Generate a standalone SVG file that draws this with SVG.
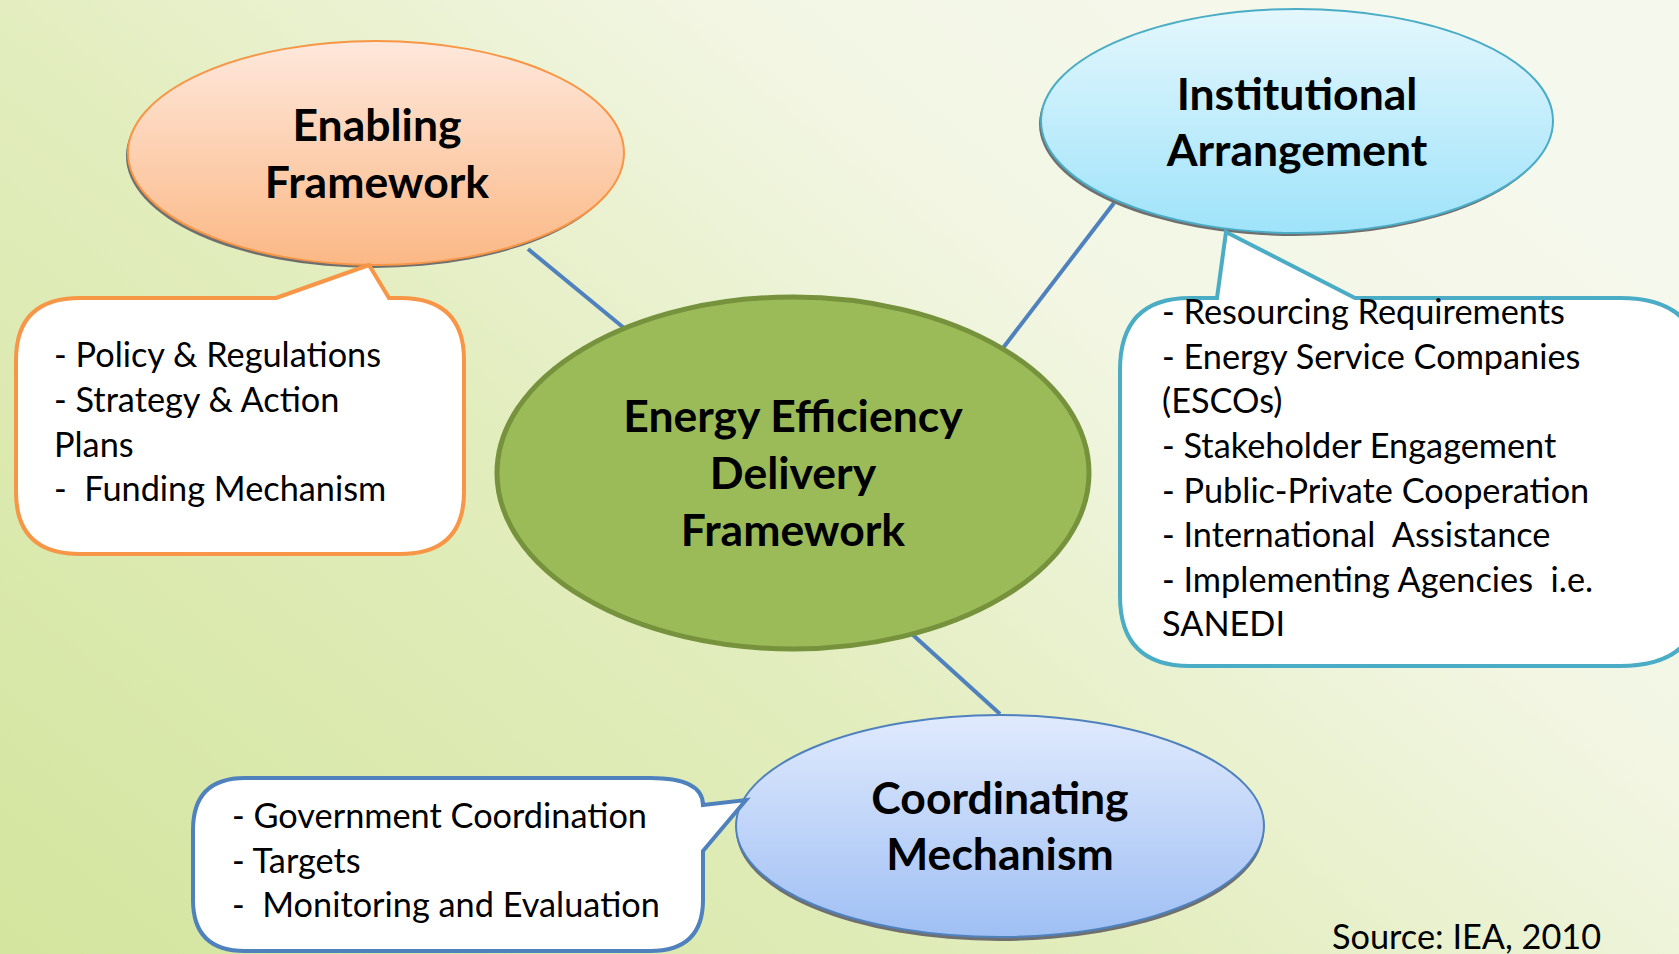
<svg xmlns="http://www.w3.org/2000/svg" width="1679" height="954" viewBox="0 0 1679 954">
<defs>
<linearGradient id="bg" x1="0" y1="1" x2="1" y2="0.3">
<stop offset="0" stop-color="#d3e59e"/>
<stop offset="0.45" stop-color="#e2edbd"/>
<stop offset="0.75" stop-color="#f2f6e3"/>
<stop offset="1" stop-color="#f5f8ec"/>
</linearGradient>
<linearGradient id="gOrange" x1="0" y1="0" x2="0" y2="1">
<stop offset="0" stop-color="#fee8dc"/>
<stop offset="1" stop-color="#fbb885"/>
</linearGradient>
<linearGradient id="gCyan" x1="0" y1="0" x2="0" y2="1">
<stop offset="0" stop-color="#e4f7fd"/>
<stop offset="1" stop-color="#9fe3fa"/>
</linearGradient>
<linearGradient id="gBlue" x1="0" y1="0" x2="0" y2="1">
<stop offset="0" stop-color="#e0eafd"/>
<stop offset="1" stop-color="#9fbff4"/>
</linearGradient>
<style>
.title{font-family:Lato,"Liberation Sans",sans-serif;font-weight:bold;font-size:44.5px;fill:#000;text-anchor:middle}
.item{font-family:Lato,"Liberation Sans",sans-serif;font-size:34.3px;fill:#000}
.shadow{fill:#6f6f6f}
.conn{stroke:#4f81bd;stroke-width:4;fill:none}
</style>
</defs>
<rect width="1679" height="954" fill="url(#bg)"/>

<g id="connectors">
<line class="conn" x1="528" y1="249" x2="624" y2="328"/>
<line class="conn" x1="1114" y1="203" x2="1003" y2="348" stroke-width="3"/>
<line class="conn" x1="913" y1="635" x2="1000" y2="714"/>
</g>

<g id="center">
<ellipse cx="793" cy="473" rx="296" ry="176" fill="#9bbb59" stroke="#76923c" stroke-width="5"/>
<text class="title" x="793" y="432">Energy Efficiency</text>
<text class="title" x="793" y="489">Delivery</text>
<text class="title" x="793" y="546">Framework</text>
</g>

<g id="enabling">
<ellipse class="shadow" cx="374" cy="156" rx="248" ry="112"/>
<ellipse cx="376" cy="153" rx="248" ry="112" fill="url(#gOrange)" stroke="#f79646" stroke-width="2"/>
<text class="title" x="377" y="141">Enabling</text>
<text class="title" x="377" y="198">Framework</text>
</g>

<g id="enabling-callout">
<path d="M276,298 L369,265 L389,298 L400,298 Q464,298 464,360 L464,492 Q464,554 400,554 L80,554 Q16,554 16,492 L16,360 Q16,298 80,298 Z" fill="#fff" stroke="#f79646" stroke-width="4" stroke-linejoin="miter"/>
<text class="item" x="54" y="367">- Policy &amp; Regulations</text>
<text class="item" x="54" y="412">- Strategy &amp; Action</text>
<text class="item" x="54" y="457">Plans</text>
<text class="item" x="54" y="501" xml:space="preserve">-  Funding Mechanism</text>
</g>

<g id="institutional">
<ellipse class="shadow" cx="1295" cy="124" rx="256" ry="112"/>
<ellipse cx="1297" cy="121" rx="256" ry="112" fill="url(#gCyan)" stroke="#4bacc6" stroke-width="2"/>
<text class="title" x="1297" y="110">Institutional</text>
<text class="title" x="1297" y="166">Arrangement</text>
</g>

<g id="institutional-callout">
<path d="M1217,298 L1226,232 L1355,298 L1620,298 Q1700,298 1700,370 L1700,596 Q1700,666 1620,666 L1190,666 Q1120,666 1120,596 L1120,370 Q1120,298 1190,298 Z" fill="#fff" stroke="#4bacc6" stroke-width="4"/>
<text class="item" x="1162" y="324">- Resourcing Requirements</text>
<text class="item" x="1162" y="369">- Energy Service Companies</text>
<text class="item" x="1162" y="413">(ESCOs)</text>
<text class="item" x="1162" y="458">- Stakeholder Engagement</text>
<text class="item" x="1162" y="503">- Public-Private Cooperation</text>
<text class="item" x="1162" y="547" xml:space="preserve">- International  Assistance</text>
<text class="item" x="1162" y="592" xml:space="preserve">- Implementing Agencies  i.e.</text>
<text class="item" x="1162" y="636">SANEDI</text>
</g>

<g id="coordinating">
<ellipse class="shadow" cx="1000" cy="830" rx="264" ry="111"/>
<ellipse cx="1000" cy="826" rx="264" ry="111" fill="url(#gBlue)" stroke="#4f81bd" stroke-width="2"/>
<text class="title" x="1000" y="814">Coordinating</text>
<text class="title" x="1000" y="870">Mechanism</text>
</g>

<g id="coordinating-callout">
<path d="M703,805 L746,800 L703,851 L703,900 Q703,951 650,951 L245,951 Q193,951 193,900 L193,830 Q193,778 245,778 L650,778 Q703,778 703,805 Z" fill="#fff" stroke="#4f81bd" stroke-width="4"/>
<text class="item" x="232" y="828">- Government Coordination</text>
<text class="item" x="232" y="873">- Targets</text>
<text class="item" x="232" y="917" xml:space="preserve">-  Monitoring and Evaluation</text>
</g>

<text class="item" x="1332" y="949" font-size="31.5">Source: IEA, 2010</text>
</svg>
